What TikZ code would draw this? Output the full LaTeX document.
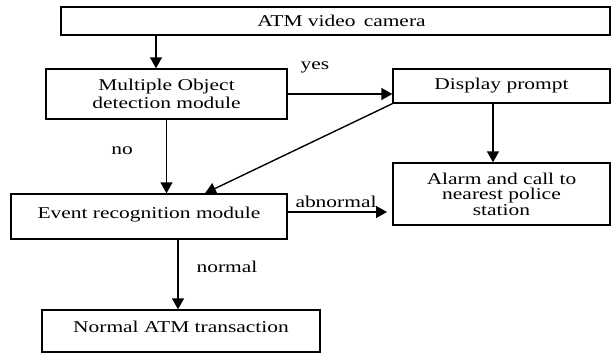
\documentclass[tikz,border=0pt]{standalone}
\usepackage{fontspec}
\setmainfont{Liberation Serif}[FakeStretch=1.3]
\usetikzlibrary{arrows.meta,calc}
\begin{document}
\begin{tikzpicture}[x=1pt,y=-1pt,
  box/.style={draw, line width=1.4pt, inner sep=0pt, align=center, font=\fontsize{16.5}{17}\selectfont},
  arr/.style={line width=1.4pt, -{Triangle[length=11pt,width=12pt]}},
  lbl/.style={font=\fontsize{16.5}{17}\selectfont, inner sep=0pt}]
\useasboundingbox (0,0) rectangle (611,354);
\fill[white] (0,0) rectangle (611,354);
\node[box, minimum width=549pt, minimum height=28pt] (cam) at (335.5,21) {\hspace*{12pt}ATM video\, camera};
\node[box, minimum width=241pt, minimum height=50pt] (mo) at (166.5,94) {Multiple Object\\[1pt]detection module};
\node[box, minimum width=217pt, minimum height=34pt] (disp) at (501.5,86) {Display prompt};
\node[box, minimum width=217pt, minimum height=62pt] (alarm) at (501.5,194) {Alarm and call to\\[-2pt]nearest police\\[-1pt]station};
\node[box, minimum width=276pt, minimum height=45pt, text depth=8pt] (event) at (149,216.5) {Event recognition module};
\node[box, minimum width=278pt, minimum height=42pt, text depth=9pt] (normal) at (181,331) {Normal ATM transaction};
\coordinate (xa) at (156,0);
\coordinate (xb) at (493,0);
\coordinate (xc) at (205,0);
\coordinate (xd) at (178,0);
\coordinate (ya) at (0,212);
\coordinate (ye) at (387,212);
\draw[arr] (xa |- cam.south) -- (xa |- mo.north);
\draw[arr] (mo.east) -- (mo.east -| disp.west);
\draw[arr] (xb |- disp.south) -- (xb |- alarm.north);
\draw[arr] (mo.south) -- (mo.south |- event.north);
\draw[arr] (disp.south west) -- (xc |- event.north);
\draw[arr] (event.east |- ya) -- (ye);
\draw[arr] (xd |- event.south) -- (xd |- normal.north);
\node[lbl] (yes) at (315,67) {yes};
\node[lbl] (no) at (122,151) {no};
\node[lbl] (abn) at (336,202) {abnormal};
\node[lbl] (nrm) at (227,267) {normal};
\end{tikzpicture}
\end{document}
